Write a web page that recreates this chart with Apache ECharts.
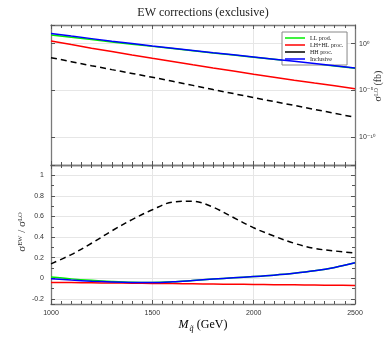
<!DOCTYPE html>
<html><head><meta charset="utf-8">
<script src="https://cdn.jsdelivr.net/npm/echarts@6/dist/echarts.min.js"></script>
<style>html,body{margin:0;padding:0;background:#fff}#c{width:392px;height:343px}</style>
</head><body><div id="c"></div>
<script>
// squark mass (GeV)
const massGeV = [1000,1100,1200,1300,1400,1500,1600,1700,1800,1900,2000,2100,2200,2300,2400,2500];
// top panel: log10 of sigma_LO (fb)
const logSigmaLL   = [0.94,0.69,0.44,0.19,-0.05,-0.29,-0.52,-0.75,-0.99,-1.22,-1.45,-1.68,-1.91,-2.15,-2.39,-2.63];
const logSigmaLHHL = [0.29,-0.10,-0.48,-0.84,-1.21,-1.57,-1.92,-2.27,-2.61,-2.94,-3.27,-3.59,-3.91,-4.22,-4.52,-4.82];
const logSigmaHH   = [-1.50,-1.93,-2.36,-2.78,-3.19,-3.60,-4.03,-4.47,-4.92,-5.35,-5.78,-6.20,-6.62,-7.04,-7.46,-7.89];
const logSigmaIncl = [1.09,0.81,0.54,0.27,0.01,-0.25,-0.49,-0.73,-0.97,-1.20,-1.43,-1.66,-1.89,-2.13,-2.37,-2.61];
// bottom panel: sigma_EW / sigma_LO
const ratioLL   = [0.012,-0.006,-0.020,-0.031,-0.039,-0.041,-0.035,-0.022,-0.008,0.004,0.016,0.030,0.048,0.072,0.105,0.150];
const ratioLHHL = [-0.040,-0.042,-0.044,-0.046,-0.048,-0.050,-0.052,-0.054,-0.056,-0.058,-0.060,-0.062,-0.064,-0.066,-0.068,-0.070];
const ratioHH   = [0.14,0.23,0.34,0.46,0.57,0.665,0.74,0.748,0.69,0.59,0.49,0.41,0.34,0.29,0.265,0.245];
const ratioIncl = [-0.005,-0.018,-0.028,-0.036,-0.041,-0.042,-0.035,-0.022,-0.008,0.004,0.016,0.030,0.048,0.072,0.105,0.150];
const seriesNames = ['LL prod.','LH+HL proc.','HH proc.','Inclusive'];
const seriesColors = ['#00ee00','#ff0000','#000000','#0000ff'];
const titleText = 'EW corrections (exclusive)';

const SERIF = "'Liberation Serif','DejaVu Serif',serif";
const SANS = "'Liberation Sans','DejaVu Sans',sans-serif";
const AX = '#7a7a7a', TK = '#555', GRID = '#e6e6e6';

const supMap = {'0':'⁰','1':'¹','2':'²','3':'³','4':'⁴','5':'⁵','6':'⁶','7':'⁷','8':'⁸','9':'⁹','-':'⁻'};
const sup = s => String(s).split('').map(c => supMap[c] || c).join('');

function pairs(vals){ return massGeV.map((m,i)=>[m, vals[i]]); }

function xAx(gridIndex, position, labels, split){
  return {type:'value', gridIndex, position, min:1000, max:2500, interval:500,
    axisLine:{show:true, onZero:false, lineStyle:{color:AX, width:1.3}},
    axisTick:{show:true, inside:true, length:4, lineStyle:{color:TK}},
    minorTick:{show:true, splitNumber:10, length:3, lineStyle:{color:TK}},
    axisLabel:{show:labels, fontSize:7, color:'#333', margin:6, fontFamily:SANS, formatter: v => String(v)},
    splitLine:{show:split, lineStyle:{color:GRID, width:1}}};
}
function yAx(gridIndex, position, labels, split, cfg){
  return Object.assign({type:'value', gridIndex, position,
    axisLine:{show:true, onZero:false, lineStyle:{color:AX, width:1.3}},
    axisTick:{show:true, inside:true, length:4, lineStyle:{color:TK}},
    axisLabel:{show:labels, fontSize:7, color:'#333', fontFamily:SANS, showMinLabel:false, showMaxLabel:false},
    splitLine:{show:split, lineStyle:{color:GRID, width:1}}}, cfg);
}
const topY = {min:-13, max:2, splitNumber:3};
const botY = {min:-0.25, max:1.1, splitNumber:7, minorTick:{show:true, splitNumber:2, length:3, lineStyle:{color:TK}}};

const xAxis = [xAx(0,'bottom',false,true), xAx(0,'top',false,false), xAx(1,'bottom',true,true), xAx(1,'top',false,false)];
const yAxis = [
  yAx(0,'right',true,true, Object.assign({}, topY, {axisLabel:{show:true, fontSize:7, color:'#333', fontFamily:SANS, margin:4, showMinLabel:false, showMaxLabel:false,
     formatter: v => (Math.abs(v % 5) < 1e-9 && v <= 0 && v >= -10) ? '10' + sup(Math.round(v) === 0 ? 0 : Math.round(v)) : ''}})),
  yAx(0,'left',false,false, topY),
  yAx(1,'left',true,true, Object.assign({}, botY)),
  yAx(1,'right',false,false, Object.assign({}, botY))
];
yAxis[2].axisLabel.margin = 7;
yAxis[2].axisLabel.formatter = v => (Math.abs(v) < 1e-9 ? '0' : String(+v.toFixed(1)));

const topVals = [logSigmaLL, logSigmaLHHL, logSigmaHH, logSigmaIncl];
const botVals = [ratioLL, ratioLHHL, ratioHH, ratioIncl];
const series = [];
[0,1].forEach(g => {
  const vals = g === 0 ? topVals : botVals;
  seriesNames.forEach((n,i) => {
    series.push({name:n, type:'line', xAxisIndex: g===0?0:2, yAxisIndex: g===0?0:2,
      data: pairs(vals[i]), showSymbol:false, symbol:'none', smooth: g===1 ? 0.35 : false,
      lineStyle:{color:seriesColors[i], width:1.5, type: i===2 ? [6,4] : 'solid'},
      itemStyle:{color:seriesColors[i]}, z: 2 + i, animation:false});
  });
});

const chart = echarts.init(document.getElementById('c'), null, {renderer:'canvas'});
chart.setOption({
  animation:false,
  backgroundColor:'#fff',
  grid:[{left:51, top:25, width:304, height:140}, {left:51, top:165, width:304, height:139}],
  xAxis, yAxis, series,
  legend:{data:seriesNames, orient:'vertical', left:282, top:32, itemWidth:20, itemHeight:8, itemGap:1,
    padding:[3,4,3,3], backgroundColor:'#fff', borderColor:'#888', borderWidth:1,
    textStyle:{fontFamily:SERIF, fontSize:6, color:'#222'}, icon:'path://M0,0L20,0L20,1.5L0,1.5Z',
    selectedMode:false},
  graphic:[
    {type:'text', x:203, y:7, style:{text:titleText, font:'12px '+SERIF, fill:'#222', textAlign:'center'}},
    {type:'text', x:22, y:232, rotation:Math.PI/2, style:{text:'σᴱᵂ / σᴸᴼ', font:'11px '+SERIF, fill:'#333', textAlign:'center', textVerticalAlign:'middle'}},
    {type:'text', x:378, y:86, rotation:Math.PI/2, style:{text:'σᴸᴼ (fb)', font:'10px '+SERIF, fill:'#333', textAlign:'center', textVerticalAlign:'middle'}},
    {type:'text', x:203, y:325, style:{text:'{m|M}{s|q̃} {t|(GeV)}', textAlign:'center', textVerticalAlign:'middle',
      rich:{m:{fontFamily:SERIF, fontStyle:'italic', fontSize:12, color:'#333'},
            s:{fontFamily:SERIF, fontStyle:'italic', fontSize:8, color:'#333', padding:[8,0,0,1]},
            t:{fontFamily:SERIF, fontSize:12, color:'#333'}}}}
  ]
});
</script></body></html>
